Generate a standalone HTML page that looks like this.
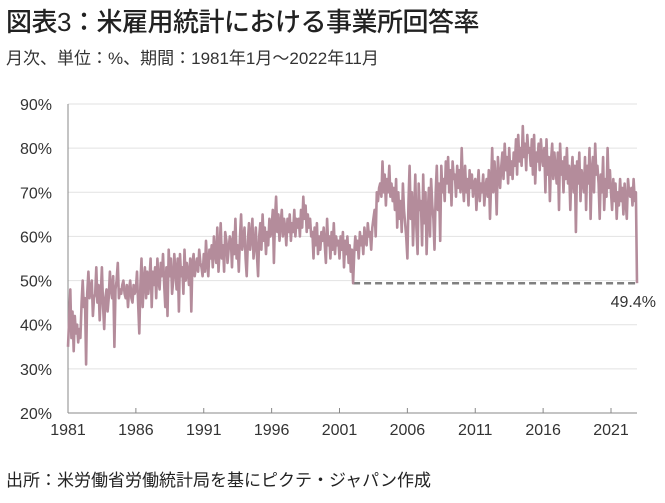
<!DOCTYPE html>
<html><head><meta charset="utf-8">
<style>
body{margin:0;background:#fff;width:665px;height:503px;overflow:hidden;font-family:"Liberation Sans","Noto Sans CJK JP",sans-serif;}
.t{position:absolute;left:6px;top:2px;font-size:26px;color:#222;letter-spacing:-0.5px;font-weight:500;}
.s{position:absolute;left:6px;top:44px;font-size:17px;color:#333;}
.f{position:absolute;left:6px;top:466px;font-size:17px;color:#222;}
svg{position:absolute;left:0;top:0;}
</style></head><body>
<div class="t">図表3：米雇用統計における事業所回答率</div>
<div class="s">月次、単位：%、期間：1981年1月～2022年11月</div>
<div class="f">出所：米労働省労働統計局を基にピクテ・ジャパン作成</div>
<svg id="c" width="665" height="503"></svg>
<script>
const yTicks=[20,30,40,50,60,70,80,90];
const xTickYears=[1981,1986,1991,1996,2001,2006,2011,2016,2021];
const startYear=1981;
const lastValue=49.4;
const rate=[
35,41,48,37,43,34,42,38,40,36,39,37,
45,50,44,46,31,47,52,46,48,50,42,46,
47,53,45,49,41,47,53,44,39,46,48,43,
46,52,48,46,51,35,48,50,54,46,48,47,
49,50,47,46,49,44,48,50,46,45,49,47,
48,52,45,38,49,55,44,50,53,46,52,47,
50,55,44,52,49,53,46,55,50,48,54,51,
56,49,44,53,42,57,51,55,47,50,56,52,
48,55,43,56,51,53,47,57,50,54,52,49,
55,43,54,56,51,53,55,52,57,54,53,51,
56,52,59,54,51,57,55,58,53,60,56,54,
62,52,57,63,55,58,52,61,59,54,57,60,
59,53,61,56,64,55,58,52,60,65,57,59,
62,55,51,59,63,57,60,64,55,58,62,56,
51,60,63,57,65,59,62,56,61,58,64,60,
62,66,54,64,69,61,65,59,63,66,60,64,
62,58,64,61,65,59,63,61,66,60,64,62,
64,60,66,62,69,64,67,61,65,62,64,60,
61,55,62,58,63,56,60,57,61,59,62,58,
54,64,58,60,55,61,57,63,56,60,58,59,
55,60,57,61,53,59,56,60,54,58,52,57,
49.4,56,60,57,59,55,61,58,60,56,62,59,
58,63,60,61,57,62,64,66,60,70,68,71,
72,69,77,70,74,67,73,70,76,69,72,68,
71,66,73,62,70,64,68,61,72,66,63,60,
55,68,76,64,70,58,66,74,62,56,72,66,
68,58,74,63,70,56,65,71,60,73,67,64,
57,70,76,66,72,59,76,70,73,68,77,72,
78,70,75,67,77,73,74,69,76,71,75,70,
80,72,68,76,70,73,67,75,71,74,69,72,
73,66,71,75,68,72,70,74,67,71,73,69,
75,64,72,80,70,77,73,65,78,74,71,76,
79,73,81,75,78,72,80,74,77,73,79,76,
82,74,83,77,80,76,85,78,81,75,83,79,
80,76,82,74,83,72,79,77,81,75,82,78,
76,80,70,82,74,78,68,77,81,73,79,75,
72,79,66,81,74,77,70,78,73,80,72,76,
66,74,78,70,76,61,77,72,79,68,75,73,
70,78,66,76,72,80,64,75,78,70,81,74,
76,72,64,74,70,78,66,73,69,80,71,75,
70,66,73,68,72,64,70,67,73,68,71,65,
72,68,64,73,70,69,71,67,73,68,70,49.4
];
const svg=document.getElementById('c');
const NS='http://www.w3.org/2000/svg';
const X0=68,X1=637,Y0=413,Y1=104;
const xYear=t=>X0+(t-startYear)*(611-68)/40;
const y=v=>Y0-(v-20)*(Y0-Y1)/70;
function mk(tag,attrs){const e=document.createElementNS(NS,tag);for(const k in attrs)e.setAttribute(k,attrs[k]);svg.appendChild(e);return e;}
yTicks.forEach(v=>{
  if(v>20){const g=mk('line',{x1:X0,x2:X1,y1:y(v),y2:y(v),stroke:'#e2e2e2','stroke-width':1});
  
  }
  const t=mk('text',{x:52,y:y(v)+6,'text-anchor':'end','font-size':16,fill:'#333','font-family':'Liberation Sans, sans-serif'});
  t.textContent=v+'%';
  
  
});
const ax=mk('line',{x1:X0,x2:X1,y1:Y0,y2:Y0,stroke:'#888','stroke-width':1});


const ay=mk('line',{x1:X0,x2:X0,y1:Y1,y2:Y0,stroke:'#888','stroke-width':1});


xTickYears.forEach(yr=>{
  const x=xYear(yr);
  const tk=mk('line',{x1:x,x2:x,y1:Y0-5,y2:Y0,stroke:'#888'});
  
  
  const t=mk('text',{x:x,y:Y0+22,'text-anchor':'middle','font-size':16,fill:'#333','font-family':'Liberation Sans, sans-serif'});
  t.textContent=yr;
  
  
});
let startI=rate.findIndex(v=>v===lastValue);
if(startI<0||startI>=rate.length-1)startI=rate.length-1;
const xi=i=>xYear(startYear+i/12);
const dl=mk('line',{x1:xi(startI),x2:xi(rate.length-1),y1:y(lastValue),y2:y(lastValue),stroke:'#808080','stroke-width':2.5,'stroke-dasharray':'7,4'});


const p=mk('polyline',{points:rate.map((v,i)=>xi(i).toFixed(1)+','+y(v).toFixed(1)).join(' '),fill:'none',stroke:'#b48c9b','stroke-width':2.6,'stroke-linejoin':'round'});


const lb=mk('text',{x:656,y:y(lastValue)+24,'text-anchor':'end','font-size':16,fill:'#333','font-family':'Liberation Sans, sans-serif'});
lb.textContent=lastValue.toFixed(1)+'%';


</script>
</body></html>
